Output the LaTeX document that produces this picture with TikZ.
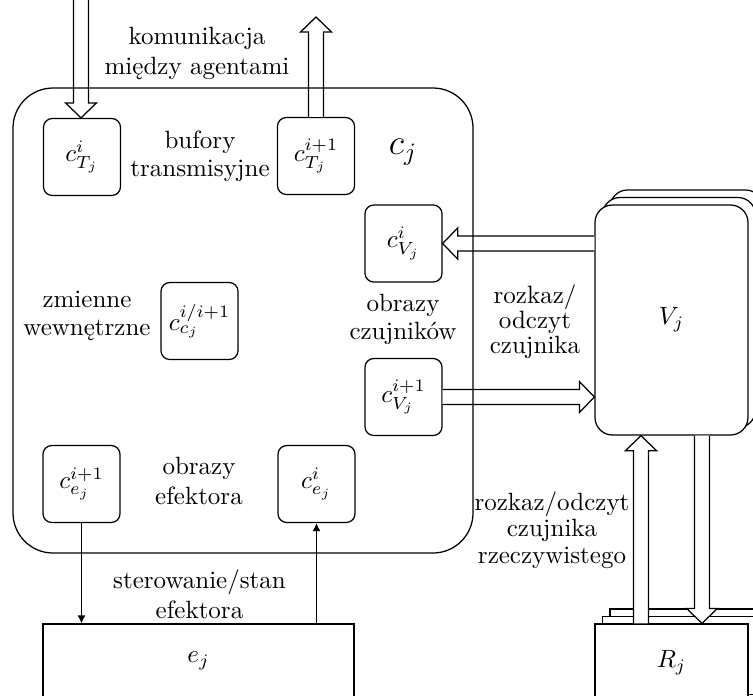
\documentclass[tikz,border=0pt]{standalone}
\usepackage{fontspec}
\usetikzlibrary{calc,arrows.meta}
\tikzset{
  sbox/.style={draw, rounded corners=3.5pt, minimum width=30.8pt, minimum height=30.8pt, inner sep=0pt, fill=white},
  vbox/.style={draw, rounded corners=7pt, minimum width=61.2pt, minimum height=92pt, inner sep=0pt, fill=white},
  rbox/.style={draw, minimum width=61.2pt, minimum height=31.2pt, inner sep=0pt, fill=white},
  fatarrow/.style={draw, fill=white, line join=miter},
  lbl/.style={align=center, inner sep=0pt, font=\fontsize{10}{#1}\selectfont},
  lbl/.default=11.2pt,
  thin/.style={-{Latex[length=3.2pt,width=3.2pt]}},
}
\newcommand\fatarr[4]{% #1 tail, #2 tip, (#3,#4) unit direction
  \draw[fatarrow] ([shift={({7.5*(-(#4))},{7.5*(#3)})}]#1)
   -- ([shift={({-15*(#3)+7.5*(-(#4))},{-15*(#4)+7.5*(#3)})}]#2)
   -- ([shift={({-15*(#3)+15.5*(-(#4))},{-15*(#4)+15.5*(#3)})}]#2)
   -- (#2)
   -- ([shift={({-15*(#3)-15.5*(-(#4))},{-15*(#4)-15.5*(#3)})}]#2)
   -- ([shift={({-15*(#3)-7.5*(-(#4))},{-15*(#4)-7.5*(#3)})}]#2)
   -- ([shift={({-7.5*(-(#4))},{-7.5*(#3)})}]#1);}
\begin{document}
\begin{tikzpicture}[x=0.4pt,y=-0.4pt,line width=0.5pt]
\useasboundingbox (0,0) rectangle (753,695);

% V_j stack
\node[vbox] (Vj2) at (686.5,305) {};
\node[vbox] (Vj1) at (679,312.5) {};
\node[vbox] (Vj) at (671.5,320) {$V_j$};

% R_j stack
\node[rbox] (Rj2) at (686.5,648) {};
\node[rbox] (Rj1) at (679,655.5) {};
\node[rbox] (Rj) at (671.5,663) {$R_j$};

% e_j
\node[draw, minimum width=124.4pt, minimum height=29.6pt, inner sep=0pt] (ej) at (198.5,661) {$e_j$};

% inner buffers
\node[sbox] (cTi) at (82,157) {$c^{i}_{T_j}$};
\node[sbox] (cTi1) at (316,156) {$c^{i+1}_{T_j}$};
\node[sbox] (cVi) at (403.5,243.5) {$c^{i}_{V_j}$};
\node[sbox] (cVi1) at (403.5,397) {$c^{i+1}_{V_j}$};
\node[sbox] (cc) at (199.5,321) {$c^{i/i+1}_{c_j}$};
\node[sbox] (cei1) at (81.5,484) {$c^{i+1}_{e_j}$};
\node[sbox] (cei) at (316.5,484) {$c^{i}_{e_j}$};

% auxiliary coordinates
\coordinate (inA) at (81,-10);
\coordinate (outA) at (316,17);
\coordinate (rv) at (641,0);
\coordinate (vr) at (702,0);

% fat arrows
\fatarr{inA}{cTi.north -| inA}{0}{1}
\fatarr{cTi1.north}{outA}{0}{-1}
\fatarr{Vj.west |- cVi.east}{cVi.east}{-1}{0}
\fatarr{cVi1.east}{Vj.west |- cVi1.east}{1}{0}
\fatarr{rv |- Rj.north}{rv |- Vj.south}{0}{-1}
\fatarr{vr |- Vj.south}{vr |- Rj.north}{0}{1}

% container
\draw[rounded corners=16pt] (13,88) rectangle (473,553);
\node[font=\Large] (cj) at (403,152) {$c_j$};

% thin arrows
\draw[thin] (cei1.south) -- (cei1.south |- ej.north);
\draw[thin] (cei.south |- ej.north) -- (cei.south);

% labels
\node[lbl=12pt] (l1) at (197,53) {komunikacja\\między agentami};
\node[lbl] (l2) at (200,156) {bufory\\transmisyjne};
\node[lbl] (l3) at (87,316) {zmienne\\wewnętrzne};
\node[lbl] (l4) at (403,319) {obrazy\\czujników};
\node[lbl=10pt] (l5) at (535,322) {rozkaz/\\odczyt\\czujnika};
\node[lbl=12pt] (l6) at (199,481) {obrazy\\efektora};
\node[lbl=12pt] (l7) at (199.5,594) {sterowanie/stan\\efektora};
\node[lbl=10.7pt] (l8) at (552,530) {rozkaz/odczyt\\czujnika\\rzeczywistego};
\end{tikzpicture}
\end{document}
